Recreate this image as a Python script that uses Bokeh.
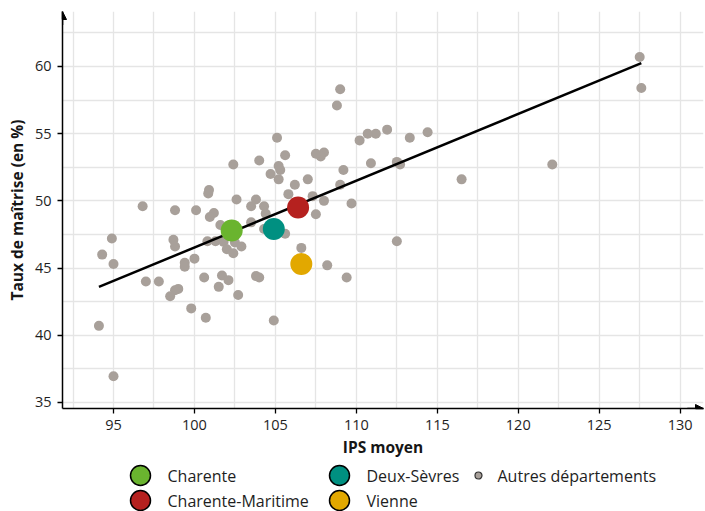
from bokeh.plotting import figure
from bokeh.models import Range1d, SingleIntervalTicker, Arrow, NormalHead, Title
from bokeh.layouts import column
from bokeh.core.properties import value
from bokeh.embed import file_html
from bokeh.resources import INLINE

# ---- data ----
autres_ips = [127.5, 127.6, 122.1, 116.5, 114.4, 113.3, 111.9, 111.2, 110.7, 110.2,
              109.0, 108.8, 108.0, 107.8, 107.5, 109.2, 110.9, 112.5, 112.7, 109.0,
              107.0, 106.2, 107.3, 108.0, 109.7, 107.5, 112.5, 106.6, 108.2, 109.4,
              105.1, 105.6, 104.0, 102.4, 105.2, 104.7, 105.2, 105.8, 103.8, 103.5,
              104.3, 102.6, 100.85, 100.9, 96.8, 98.8, 100.1, 101.2, 100.95, 101.6,
              104.4, 103.5, 105.6, 104.3, 100.8, 101.3, 101.8, 102.5, 102.9, 102.0,
              102.4, 94.9, 94.3, 95.0, 98.7, 98.8, 100.0, 99.4, 99.4, 97.0,
              97.8, 100.6, 101.7, 102.1, 101.5, 103.8, 104.0, 102.7, 99.0, 98.8,
              98.5, 99.8, 100.7, 104.9, 94.1, 95.0, 105.3]
autres_taux = [60.7, 58.4, 52.7, 51.6, 55.1, 54.7, 55.3, 55.0, 55.0, 54.5,
               58.3, 57.1, 53.6, 53.3, 53.5, 52.3, 52.8, 52.9, 52.7, 51.2,
               51.6, 51.2, 50.35, 50.0, 49.8, 49.0, 47.0, 46.5, 45.2, 44.3,
               54.7, 53.4, 53.0, 52.7, 52.6, 52.0, 51.6, 50.5, 50.1, 49.6,
               49.6, 50.1, 50.55, 50.8, 49.6, 49.3, 49.3, 49.1, 48.8, 48.2,
               49.05, 48.4, 47.55, 47.9, 47.0, 47.0, 46.95, 46.9, 46.6, 46.4,
               46.1, 47.2, 46.0, 45.3, 47.1, 46.6, 45.7, 45.4, 45.1, 44.0,
               44.0, 44.3, 44.45, 44.1, 43.6, 44.4, 44.3, 43.0, 43.45, 43.35,
               42.9, 42.0, 41.3, 41.1, 40.7, 36.95, 52.3]

dept_names = ["Charente", "Charente-Maritime", "Deux-Sèvres", "Vienne"]
dept_ips = [102.3, 106.4, 104.9, 106.6]
dept_taux = [47.8, 49.5, 47.9, 45.3]
dept_colors = ["#6AB42F", "#B5211F", "#009081", "#E2A800"]
autres_label = "Autres départements"
autres_color = "#A8A09A"

fit_slope = 0.497
fit_intercept = -3.17

x_ticks = [95, 100, 105, 110, 115, 120, 125, 130]
y_ticks = [35, 40, 45, 50, 55, 60]
x_title = "IPS moyen"
y_title = "Taux de maîtrise (en %)"

FONT = "Open Sans"
X0, X1 = 91.85, 131.44
Y0, Y1 = 34.55, 64.09

W = 705
MAIN_H = 461
p = figure(width=W, height=MAIN_H, x_range=Range1d(X0, X1), y_range=Range1d(Y0, Y1),
           output_backend="svg", toolbar_location=None,
           min_border_left=62, min_border_right=2, min_border_top=11, min_border_bottom=53)
p.frame_align = False
p.outline_line_color = None
p.background_fill_color = "white"

for g in (p.xgrid, p.ygrid):
    g.grid_line_color = "#E5E5E5"
    g.grid_line_width = 1.3
p.xgrid.ticker = SingleIntervalTicker(interval=2.5)
p.ygrid.ticker = SingleIntervalTicker(interval=2.5)

for ax in (p.xaxis, p.yaxis):
    ax.minor_tick_line_color = None
    ax.major_tick_in = 0
    ax.major_tick_out = 5
    ax.major_tick_line_width = 1.3
    ax.axis_line_width = 1.5
    ax.axis_line_color = "black"
    ax.major_tick_line_color = "black"
    ax.major_label_text_font = FONT
    ax.major_label_text_font_size = "14.5px"
    ax.major_label_text_color = "#1E1E1E"
    ax.axis_label_text_font = FONT
    ax.axis_label_text_font_size = "15.5px"
    ax.axis_label_text_font_style = "bold"
    ax.axis_label_text_color = "#161616"
p.xaxis.ticker = x_ticks
p.yaxis.ticker = y_ticks
p.yaxis.axis_label = y_title
p.xaxis.major_label_standoff = 6
p.yaxis.major_label_standoff = 6
p.yaxis.axis_label_standoff = 4

# x axis title as a centred title below the axis
p.add_layout(Title(text=x_title, align="center", text_font=FONT, text_font_size="15.5px",
                   text_font_style="bold", text_color="#161616", standoff=2, offset=0), "below")

# axis arrows
p.add_layout(Arrow(end=NormalHead(size=8, fill_color="black", line_color="black"),
                   x_start=X0, y_start=Y1 - 1, x_end=X0, y_end=Y1, line_width=1.5))
p.add_layout(Arrow(end=NormalHead(size=8, fill_color="black", line_color="black"),
                   x_start=X1 - 1, y_start=Y0, x_end=X1, y_end=Y0, line_width=1.5))

p.scatter(autres_ips, autres_taux, size=10, fill_color=autres_color, line_color=None)

fx = [min(autres_ips + dept_ips), max(autres_ips + dept_ips)]
fy = [fit_intercept + fit_slope * v for v in fx]
p.line(fx, fy, line_color="black", line_width=2.5)

p.scatter(dept_ips, dept_taux, size=22, fill_color=dept_colors, line_color=None)

# ---- legend (separate strip) ----
LH = 511 - MAIN_H
lg = figure(width=W, height=LH, x_range=Range1d(0, W), y_range=Range1d(LH, 0),
            output_backend="svg", toolbar_location=None,
            x_axis_location=None, y_axis_location=None,
            min_border=0, min_border_left=0, min_border_right=0, min_border_top=0, min_border_bottom=0)
lg.frame_align = False
lg.xgrid.visible = False
lg.ygrid.visible = False
lg.outline_line_color = None

col_x = [140, 140, 339, 339]
row_y = [14, 39, 14, 39]
lg.scatter(col_x, row_y, size=20, fill_color=dept_colors, line_color="black", line_width=1.5)
lg.text([x + 27 for x in col_x], row_y, text=dept_names, text_font=value(FONT),
        text_font_size="16px", text_baseline="middle", text_color="#1E1E1E")
lg.scatter([478], [14], size=7, fill_color=autres_color, line_color="#333333", line_width=1.2)
lg.text([497], [14], text=[autres_label], text_font=value(FONT),
        text_font_size="16px", text_baseline="middle", text_color="#1E1E1E")

layout = column(p, lg, spacing=0)
open("out.html", "w").write(file_html(layout, INLINE))
